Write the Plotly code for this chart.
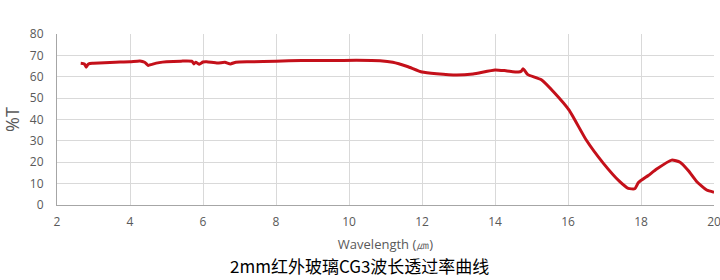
import plotly.graph_objects as go

wavelength = [2.65, 2.75, 2.8, 2.85, 2.9, 3.0, 3.3, 3.6, 4.0, 4.27, 4.4, 4.5, 4.6, 4.8, 5.0,
              5.4, 5.7, 5.75, 5.8, 5.9, 6.0, 6.1, 6.4, 6.6, 6.75, 6.9, 7.3, 8.0, 8.7, 9.5,
              10.2, 10.85, 11.2, 11.6, 12.0, 12.4, 12.95, 13.4, 14.0, 14.3, 14.64, 14.72,
              14.77, 14.83, 14.9, 15.27, 15.64, 16.03, 16.5, 16.97, 17.42, 17.65, 17.83,
              17.93, 18.2, 18.43, 18.84, 19.07, 19.3, 19.53, 19.8, 20.0]
transmittance = [66.3, 66.0, 64.5, 65.8, 66.2, 66.3, 66.6, 66.8, 67.0, 67.4, 66.8, 65.3, 65.8,
                 66.6, 67.0, 67.3, 67.2, 66.0, 66.8, 65.9, 66.9, 67.0, 66.4, 66.8, 66.0, 66.8,
                 67.0, 67.3, 67.6, 67.6, 67.7, 67.5, 66.8, 64.8, 62.2, 61.4, 60.8, 61.3, 63.2,
                 62.8, 62.2, 62.6, 63.8, 62.5, 61.0, 58.6, 52.3, 44.4, 30.4, 19.5, 10.9, 7.8,
                 7.6, 10.5, 13.8, 16.8, 21.0, 20.0, 16.0, 10.9, 7.0, 6.0]
x_ticks = [2, 4, 6, 8, 10, 12, 14, 16, 18, 20]
y_ticks = [0, 10, 20, 30, 40, 50, 60, 70, 80]
caption = "2mm红外玻璃CG3波长透过率曲线"

fig = go.Figure()
fig.add_trace(go.Scatter(x=wavelength, y=transmittance, mode="lines",
                         line=dict(color="#c4101a", width=3, shape="spline", smoothing=0.5),
                         showlegend=False, hoverinfo="skip"))

tick_font = dict(family="Open Sans, sans-serif", size=12, color="#595959")
fig.update_layout(
    width=720, height=280,
    margin=dict(l=57, r=6, t=34, b=75),
    paper_bgcolor="white", plot_bgcolor="white",
    xaxis=dict(range=[2, 20], tickvals=x_ticks, showgrid=True, gridcolor="#d9d9d9",
               gridwidth=1, showline=True, linecolor="#a6a6a6", linewidth=1,
               zeroline=False, tickfont=tick_font, ticks="", ticklabelstandoff=6,
               ticklabeloverflow="allow", automargin=False,
               title=dict(text="Wavelength (㎛)", standoff=10,
                          font=dict(family="Open Sans, sans-serif", size=13, color="#595959"))),
    yaxis=dict(range=[0, 80], tickvals=y_ticks, showgrid=True, gridcolor="#d9d9d9",
               gridwidth=1, showline=True, linecolor="#a6a6a6", linewidth=1,
               zeroline=False, tickfont=tick_font, ticks="", ticklabelstandoff=10,
               automargin=False,
               title=dict(text="%T", standoff=10,
                          font=dict(family="Open Sans, sans-serif", size=18, color="#595959"))),
    annotations=[dict(text=caption, xref="paper", yref="paper", x=0.46, y=-0.355,
                      xanchor="center", yanchor="middle", showarrow=False,
                      font=dict(family="Noto Sans CJK SC, sans-serif", size=17, color="#000000"))],
)

fig.write_html("out.html")
